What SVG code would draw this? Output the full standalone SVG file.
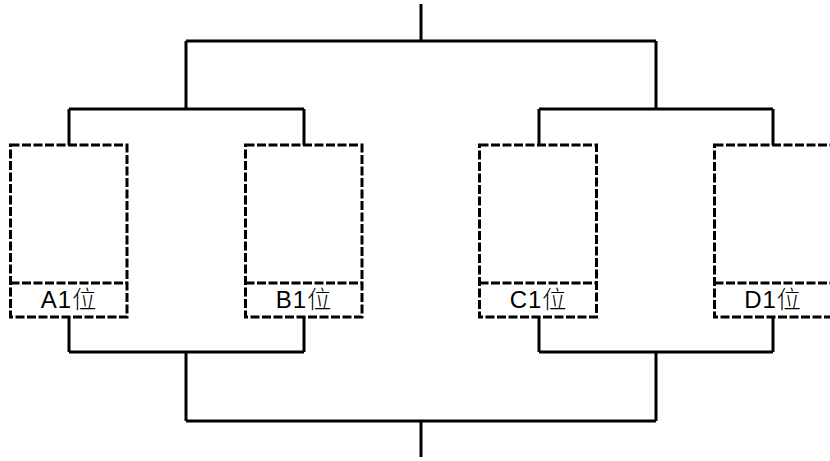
<svg xmlns="http://www.w3.org/2000/svg" width="830" height="461" viewBox="0 0 830 461">
<style>
.w{fill:none;stroke:#000;stroke-width:3}
.b{fill:none;stroke:#000;stroke-width:3;stroke-dasharray:9 2.5}
.t{font-family:"Liberation Sans","Noto Sans CJK SC",sans-serif;font-size:24px;letter-spacing:1px;fill:#000;text-anchor:middle}
.c{font-family:"Noto Sans CJK SC",sans-serif;font-weight:300}
</style>
<rect width="830" height="461" fill="#fff"/>
<g id="connectors">
<path class="w" d="M421 4V41M186 41H656M186 41V109M656 41V109M69 109H304M539 109H773M69 109V145M304 109V145M539 109V145M773 109V145"/>
<path class="w" d="M69 317V352M304 317V352M539 317V352M773 317V352M69 352H304M539 352H773M186 352V421M656 352V421M186 421H656M421 421V457"/>
</g>
<g id="A1"><rect class="b" x="10.5" y="145" width="116.5" height="172"/><line class="b" x1="10.5" y1="283" x2="127" y2="283"/><text class="t" x="69" y="308">A1<tspan class="c">位</tspan></text></g>
<g id="B1"><rect class="b" x="245.5" y="145" width="116.5" height="172"/><line class="b" x1="245.5" y1="283" x2="362" y2="283"/><text class="t" x="304" y="308">B1<tspan class="c">位</tspan></text></g>
<g id="C1"><rect class="b" x="479.5" y="145" width="117" height="172"/><line class="b" x1="479.5" y1="283" x2="596.5" y2="283"/><text class="t" x="538.5" y="308">C1<tspan class="c">位</tspan></text></g>
<g id="D1"><rect class="b" x="714.5" y="145" width="117" height="172"/><line class="b" x1="714.5" y1="283" x2="831.5" y2="283"/><text class="t" x="773" y="308">D1<tspan class="c">位</tspan></text></g>
</svg>
